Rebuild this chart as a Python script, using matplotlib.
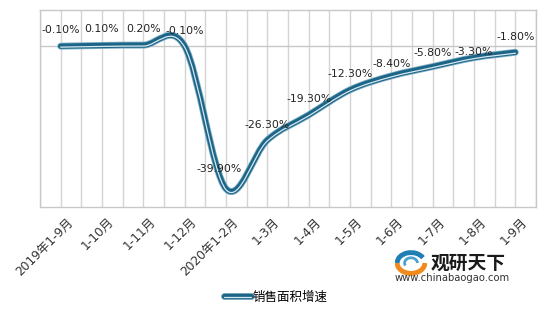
import numpy as np
import matplotlib
matplotlib.use("Agg")
import matplotlib.pyplot as plt
from matplotlib.path import Path
from matplotlib.patches import PathPatch, Arc
from matplotlib.lines import Line2D
import matplotlib.patheffects as pe

plt.rcParams['font.family'] = ['DejaVu Sans', 'Noto Sans CJK SC']

categories = ["2019年1-9月", "1-10月", "1-11月", "1-12月", "2020年1-2月", "1-3月",
              "1-4月", "1-5月", "1-6月", "1-7月", "1-8月", "1-9月"]
values = [-0.1, 0.1, 0.2, -0.1, -39.9, -26.3, -19.3, -12.3, -8.4, -5.8, -3.3, -1.8]
labels = ["-0.10%", "0.10%", "0.20%", "-0.10%", "-39.90%", "-26.30%", "-19.30%",
          "-12.30%", "-8.40%", "-5.80%", "-3.30%", "-1.80%"]
series_name = "销售面积增速"

# label offsets in points (dx, dy), label centre relative to point
offsets = [(0, 11.5), (0, 11.5), (0, 11.5), (0, 11), (-5, 14), (0, 11), (0, 11.5),
           (0, 11.5), (0, 8.5), (0, 10), (0, 4), (0, 11)]

fig = plt.figure(figsize=(5.6, 3.17), dpi=100)
ax = fig.add_axes([40/560, 1-207/317, 496/560, 197/317])
ax.set_xlim(-0.5, len(categories)-0.5)
ax.set_ylim(-45, 10)

for g in np.arange(-0.5, len(categories), 0.5):
    ax.axvline(g, color='#d4d4d4', lw=1.0, zorder=0)
ax.axhline(0, color='#c8c8c8', lw=1.0, zorder=1)
for s in ax.spines.values():
    s.set_color('#c8c8c8')
    s.set_linewidth(1.0)

# smoothed line (Excel-like bezier) built from data points
x = np.arange(len(values), dtype=float)
y = np.array(values, dtype=float)
verts = [(x[0], y[0])]
codes = [Path.MOVETO]
n = len(x)
for i in range(n-1):
    p0 = np.array([x[max(i-1, 0)], y[max(i-1, 0)]])
    p1 = np.array([x[i], y[i]])
    p2 = np.array([x[i+1], y[i+1]])
    p3 = np.array([x[min(i+2, n-1)], y[min(i+2, n-1)]])
    c1 = p1 + (p2 - p0) / 6.0
    c2 = p2 - (p3 - p1) / 6.0
    verts += [tuple(c1), tuple(c2), tuple(p2)]
    codes += [Path.CURVE4]*3
path = Path(verts, codes)
effects = [pe.Stroke(linewidth=5.0, foreground='#7fb0c8'),
           pe.Stroke(linewidth=3.8, foreground='#1d6586'),
           pe.Stroke(linewidth=0.9, foreground='#d6e8f1', offset=(0, -0.7))]
patch = PathPatch(path, fill=False, lw=3.8, edgecolor='#1d6586',
                  capstyle='round', joinstyle='round', zorder=3)
patch.set_path_effects(effects)
ax.add_patch(patch)

for xi, yi, lab, off in zip(x, y, labels, offsets):
    ax.annotate(lab, (xi, yi), xytext=off, textcoords='offset points',
                ha='center', va='center', fontsize=7.8, color='#222222', zorder=5)

ax.set_xticks(x)
ax.set_xticklabels([])
ax.set_yticks([])
ax.tick_params(length=0)
for xi, cat in zip(x, categories):
    ax.annotate(cat, (xi, -45), xytext=(4, -6), textcoords='offset points',
                rotation=45, ha='right', va='top', rotation_mode='anchor',
                fontsize=8.8, color='#333333', annotation_clip=False)

# legend
h = Line2D([0], [0], color='#1d6586', lw=3.8, solid_capstyle='round')
h.set_path_effects(effects)
leg = fig.legend([h], [series_name], loc='center', bbox_to_anchor=(276/560, 1-297/317),
                 frameon=False, handlelength=2.1, handletextpad=0.15,
                 prop={'family': ['Noto Sans CJK SC', 'DejaVu Sans'], 'size': 9})

# watermark logo
fig.text(431/560, 1-263/317, "观研天下", fontsize=13.5, fontweight='bold', color='#1a1a1a',
         family=['Noto Sans CJK SC'], ha='left', va='center')
fig.text(452/560, 1-278/317, "www.chinabaogao.com", fontsize=7.2, color='#333333',
         ha='center', va='center')
lax = fig.add_axes([395/560, 1-276/317, 32/560, 26/317])
lax.set_xlim(0, 3)
lax.set_ylim(0, 2)
lax.axis('off')
lax.add_patch(Arc((1.5, 1.0), 2.6, 1.6, theta1=180, theta2=360, color='#f08a1c', lw=3.5))
lax.add_patch(Arc((1.5, 1.0), 2.6, 1.6, theta1=20, theta2=180, color='#1f7fb4', lw=3.5))
lax.add_patch(Arc((1.5, 1.0), 1.2, 0.8, theta1=0, theta2=200, color='#4aa3cf', lw=2))

fig.savefig("out.png", dpi=100)
